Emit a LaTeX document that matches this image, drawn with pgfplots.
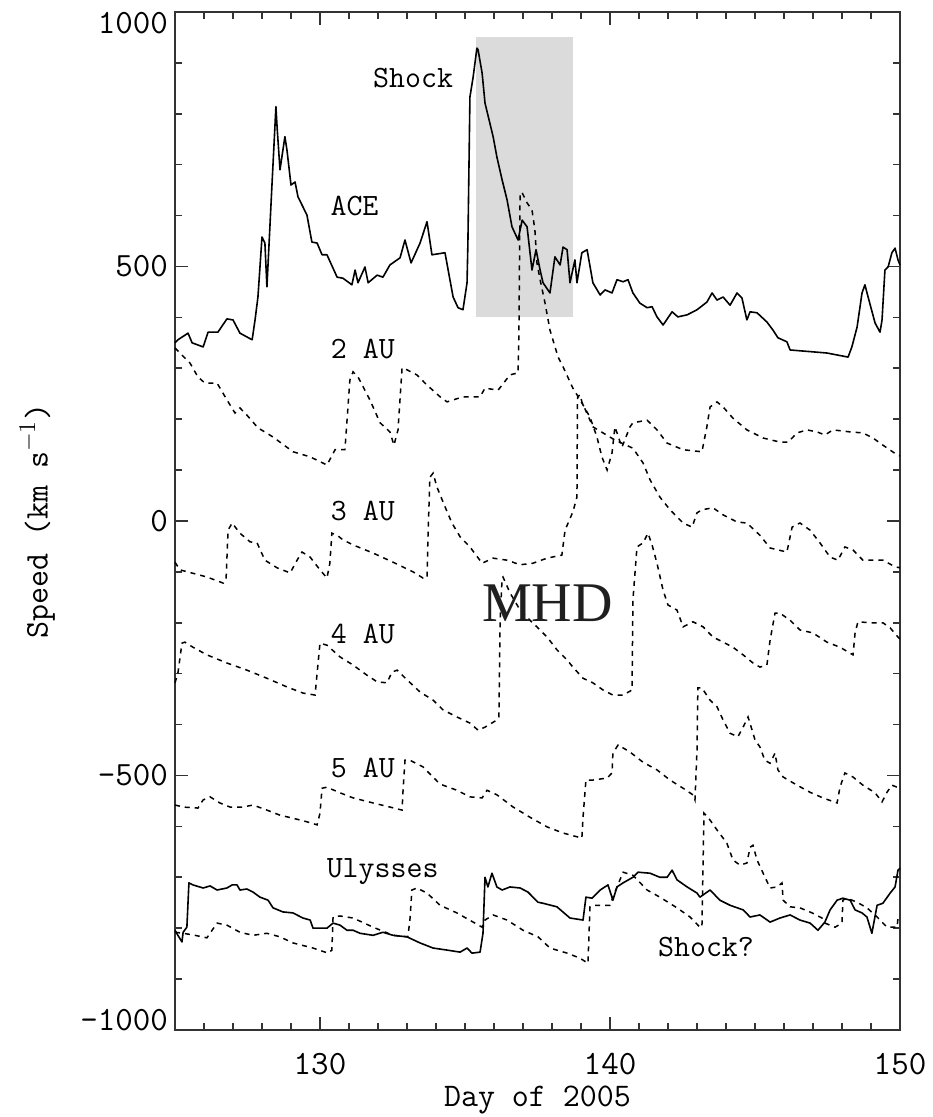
\documentclass[border=0pt]{standalone}
\usepackage{fontspec}
\usepackage{pgfplots}
\pgfplotsset{compat=1.18}
\newfontfamily\mhdfont{Liberation Serif}

\newcommand\tickfont{\fontsize{17}{20}\selectfont\ttfamily}
\newcommand\curvefont{\fontsize{15.5}{18}\selectfont\ttfamily}

\pgfplotsset{
  obs/.style={black, line width=0.8pt, line join=round, forget plot},
  mhd/.style={black, line width=0.75pt, dash pattern=on 2.5pt off 2.5pt, forget plot},
}

\begin{document}
\begin{tikzpicture}
\begin{axis}[
  name=ax,
  scale only axis, width=362.5pt, height=509pt,
  xmin=125, xmax=150, ymin=-1000, ymax=1000,
  clip=false,
  tick align=inside,
  xtick={130,140,150}, minor xtick={125,...,150},
  ytick={-1000,-500,0,500,1000}, yticklabels={,-500,0,500,},
  minor ytick={-1000,-900,...,1000},
  major tick length=6.5pt, minor tick length=3.5pt,
  tick style={line width=0.8pt, black!80},
  axis line style={line width=0.9pt, black!80},
  /pgf/number format/assume math mode=true,
  ticklabel style={font=\tickfont},
  xticklabel style={anchor=center, yshift=-17pt},
  xlabel={Day of 2005},
  ylabel={Speed (km s$^{-1}$)},
  label style={font=\fontsize{16.5}{20}\selectfont\ttfamily},
  xlabel style={at={(axis description cs:0.5,-0.0688)}, anchor=center},
  ylabel style={at={(axis description cs:-0.19,0.5)}, anchor=center},
]

% shaded interval around the shock passage at ACE
\addplot[fill=black!14, draw=none, forget plot]
  coordinates {(135.38,401) (138.72,401) (138.72,951) (135.38,951)};

% ACE
\addplot[obs] coordinates {
(125.00,350) (125.10,356) (125.45,369) (125.59,350) (125.97,342) (126.14,371)
(126.48,371) (126.79,397) (127.00,395) (127.24,369) (127.66,356) (127.76,395)
(127.86,440) (128.00,558) (128.10,546) (128.17,460) (128.34,656) (128.48,814)
(128.52,774) (128.62,690) (128.79,755) (128.86,729) (129.00,660) (129.14,666)
(129.24,637) (129.55,601) (129.72,548) (129.90,546) (130.07,523) (130.24,523)
(130.59,479) (130.79,477) (131.10,464) (131.21,493) (131.31,468) (131.55,499)
(131.66,468) (131.97,483) (132.17,479) (132.41,503) (132.76,517) (132.93,552)
(133.14,507) (133.45,546) (133.69,588) (133.86,523) (134.31,527) (134.48,474)
(134.59,440) (134.76,419) (134.93,415) (135.07,468) (135.10,546) (135.17,833)
(135.28,872) (135.41,929) (135.45,926) (135.59,880) (135.69,821) (135.97,755)
(136.10,715) (136.28,670) (136.45,631) (136.62,578) (136.83,552) (136.97,591)
(137.14,578) (137.31,493) (137.45,533) (137.59,493) (137.69,468) (137.93,448)
(138.10,519) (138.28,503) (138.38,538) (138.52,533) (138.62,468) (138.79,513)
(138.86,468) (139.03,527) (139.21,533) (139.41,468) (139.66,444) (139.83,454)
(140.07,448) (140.24,474) (140.45,470) (140.62,474) (140.79,448) (141.03,428)
(141.28,419) (141.45,421) (141.62,401) (141.83,385) (142.14,411) (142.34,401)
(142.66,405) (143.00,415) (143.34,430) (143.52,448) (143.69,434) (143.90,440)
(144.14,424) (144.38,448) (144.55,438) (144.72,395) (144.83,411) (145.07,409)
(145.41,391) (145.62,375) (145.79,360) (146.10,352) (146.21,336) (147.48,330)
(148.21,322) (148.34,342) (148.52,381) (148.69,448) (148.79,464) (148.90,440)
(149.14,389) (149.31,371) (149.38,395) (149.48,493) (149.59,499) (149.72,527)
(149.83,536) (149.93,513) (150.00,503)
};

% MHD at 2 AU
\addplot[mhd] coordinates {
(125.00,340) (125.24,326) (125.52,310) (125.79,283) (126.03,271) (126.45,271)
(126.79,238) (127.07,212) (127.24,222) (127.48,208) (127.86,183) (128.38,165)
(129.07,136) (129.66,126) (130.24,110) (130.52,140) (130.86,140) (131.03,277)
(131.14,293) (131.31,283) (131.72,238) (132.07,193) (132.41,175) (132.55,149)
(132.69,179) (132.83,301) (133.00,297) (133.34,287) (133.69,267) (134.14,244)
(134.38,234) (134.93,244) (135.52,244) (135.69,261) (136.14,257) (136.55,287)
(136.83,291) (136.86,375) (136.90,645) (136.97,645) (137.14,625) (137.31,611)
(137.41,572) (137.48,507) (137.59,474) (137.76,428) (137.93,375) (138.21,322)
(138.38,303) (138.72,261) (138.97,238) (139.31,204) (139.55,165) (139.72,126)
(139.90,100) (140.07,134) (140.17,185) (140.41,145) (140.69,185) (140.79,193)
(141.28,198) (141.62,179) (141.97,153) (142.52,140) (143.17,136) (143.34,185)
(143.45,224) (143.69,234) (143.90,224) (144.24,202) (144.72,179) (145.28,163)
(145.86,155) (146.14,155) (146.45,173) (146.79,179) (147.14,175) (147.41,169)
(147.69,179) (148.28,175) (148.72,173) (149.07,163) (149.41,149) (149.90,130)
(150.00,128)
};

% MHD at 3 AU
\addplot[mhd] coordinates {
(125.00,-81) (125.17,-96) (126.10,-110) (126.66,-122) (126.76,-116) (126.83,-18)
(126.97,-4) (127.24,-24) (127.59,-41) (127.83,-43) (128.10,-77) (128.52,-92)
(128.97,-102) (129.21,-77) (129.38,-61) (129.66,-71) (130.00,-96) (130.24,-112)
(130.34,-83) (130.41,-24) (130.59,-28) (130.79,-37) (131.14,-47) (131.83,-63)
(132.52,-81) (133.21,-100) (133.55,-112) (133.69,-112) (133.72,-37) (133.79,86)
(133.90,94) (134.03,67) (134.31,28) (134.55,-4) (134.83,-31) (135.17,-51)
(135.59,-83) (135.97,-73) (136.45,-77) (136.90,-86) (137.34,-83) (137.83,-73)
(138.34,-67) (138.45,-18) (138.72,18) (138.86,47) (138.88,244) (138.97,248)
(139.03,234) (139.41,185) (140.17,159) (140.79,143) (141.14,114) (141.38,81)
(141.72,47) (142.07,22) (142.52,-4) (142.83,-12) (143.00,16) (143.17,22)
(143.55,26) (143.90,12) (144.38,-2) (144.72,-4) (145.17,-28) (145.52,-53)
(146.10,-61) (146.28,-12) (146.55,-4) (146.90,-18) (147.24,-43) (147.59,-71)
(147.86,-77) (148.10,-51) (148.38,-57) (148.72,-77) (149.41,-77) (149.83,-90)
(150.00,-92)
};

% MHD at 4 AU
\addplot[mhd] coordinates {
(125.00,-318) (125.10,-299) (125.24,-240) (125.34,-238) (125.62,-248) (126.10,-263)
(126.79,-279) (127.48,-293) (128.17,-309) (128.86,-326) (129.41,-338) (129.83,-342)
(129.90,-299) (130.00,-240) (130.24,-244) (130.69,-267) (131.14,-283) (131.62,-303)
(131.97,-316) (132.31,-318) (132.48,-297) (132.66,-293) (133.00,-312) (133.45,-336)
(133.90,-352) (134.24,-371) (134.72,-385) (135.17,-397) (135.45,-411) (135.69,-405)
(136.10,-391) (136.17,-385) (136.21,-195) (136.28,-112) (136.31,-110) (136.55,-141)
(136.90,-175) (137.24,-195) (137.48,-208) (137.83,-228) (138.17,-253) (138.52,-273)
(138.72,-287) (139.07,-309) (139.41,-318) (139.76,-332) (140.10,-342) (140.45,-342)
(140.76,-332) (140.79,-155) (140.93,-51) (141.14,-43) (141.31,-24) (141.45,-47)
(141.62,-83) (141.83,-136) (142.00,-165) (142.31,-175) (142.52,-208) (142.86,-198)
(143.21,-208) (143.55,-228) (143.90,-238) (144.24,-248) (144.59,-263) (144.93,-279)
(145.17,-287) (145.41,-283) (145.52,-234) (145.69,-181) (145.86,-181) (146.21,-195)
(146.55,-214) (147.00,-220) (147.48,-238) (147.93,-248) (148.38,-263) (148.45,-220)
(148.55,-198) (148.97,-200) (149.41,-200) (149.66,-210) (149.93,-228) (150.00,-232)
};

% MHD at 5 AU
\addplot[mhd] coordinates {
(125.00,-558) (125.28,-562) (125.79,-564) (125.97,-548) (126.21,-542) (126.55,-554)
(126.90,-562) (127.34,-562) (127.69,-558) (128.17,-568) (128.62,-578) (129.07,-584)
(129.55,-591) (129.90,-597) (130.00,-574) (130.07,-525) (130.24,-523) (130.69,-534)
(131.14,-544) (131.83,-554) (132.41,-562) (132.83,-568) (132.86,-533) (132.93,-470)
(133.10,-470) (133.55,-483) (134.07,-513) (134.24,-519) (134.72,-529) (135.17,-542)
(135.59,-544) (135.76,-529) (136.10,-538) (136.66,-562) (137.24,-582) (137.83,-601)
(138.38,-613) (139.03,-623) (139.07,-582) (139.17,-509) (139.41,-509) (139.90,-505)
(140.07,-495) (140.10,-456) (140.28,-440) (140.69,-454) (141.14,-474) (141.62,-489)
(142.07,-509) (142.52,-525) (142.86,-538) (142.93,-548) (143.00,-450) (143.03,-328)
(143.17,-328) (143.45,-352) (143.69,-365) (143.90,-391) (144.14,-417) (144.41,-424)
(144.59,-405) (144.76,-385) (144.90,-411) (145.00,-430) (145.17,-444) (145.34,-470)
(145.52,-476) (145.69,-456) (145.79,-489) (145.97,-503) (146.45,-519) (146.90,-533)
(147.34,-544) (147.83,-554) (147.93,-523) (148.10,-495) (148.38,-503) (148.72,-519)
(149.14,-534) (149.38,-552) (149.55,-533) (149.72,-519) (149.90,-523) (150.00,-523)
};

% MHD at Ulysses
\addplot[mhd] coordinates {
(125.00,-808) (125.28,-810) (125.69,-814) (126.10,-819) (126.28,-804) (126.45,-790)
(126.79,-794) (127.24,-808) (127.69,-814) (128.17,-810) (128.62,-817) (129.07,-829)
(129.76,-839) (130.28,-849) (130.41,-843) (130.45,-778) (130.69,-776) (131.14,-780)
(131.83,-798) (132.52,-814) (133.03,-817) (133.10,-784) (133.17,-725) (133.34,-721)
(133.69,-731) (134.14,-755) (134.72,-770) (135.28,-788) (135.59,-798) (135.69,-784)
(135.97,-774) (136.45,-784) (137.00,-804) (137.52,-817) (137.93,-839) (138.52,-849)
(138.97,-859) (139.24,-869) (139.31,-758) (139.41,-755) (140.00,-755) (140.10,-739)
(140.45,-690) (140.79,-696) (141.28,-725) (141.72,-739) (142.31,-760) (142.76,-778)
(143.10,-798) (143.17,-798) (143.24,-574) (143.38,-582) (143.69,-607) (144.03,-633)
(144.24,-666) (144.48,-676) (144.72,-672) (144.83,-641) (144.93,-637) (145.07,-666)
(145.28,-692) (145.52,-721) (145.76,-719) (145.93,-711) (145.97,-745) (146.21,-758)
(146.55,-760) (146.97,-770) (147.31,-780) (147.41,-790) (147.76,-798) (148.00,-790)
(148.03,-745) (148.17,-741) (148.52,-749) (148.86,-760) (149.21,-778) (149.55,-798)
(149.90,-798) (149.93,-780) (150.00,-774)
};

% Ulysses
\addplot[obs] coordinates {
(125.00,-804) (125.10,-814) (125.24,-827) (125.28,-808) (125.41,-798) (125.48,-711)
(125.62,-715) (125.97,-721) (126.21,-717) (126.45,-725) (126.79,-721) (126.97,-715)
(127.14,-715) (127.24,-725) (127.48,-723) (127.69,-729) (127.93,-739) (128.21,-745)
(128.38,-760) (128.72,-768) (129.07,-770) (129.41,-780) (129.66,-784) (129.76,-800)
(130.24,-800) (130.45,-790) (130.69,-794) (130.93,-804) (131.14,-804) (131.38,-810)
(131.83,-814) (132.17,-808) (132.52,-814) (133.00,-817) (133.45,-829) (133.90,-839)
(134.38,-843) (134.83,-847) (135.07,-839) (135.24,-849) (135.52,-847) (135.62,-810)
(135.69,-700) (135.79,-719) (135.93,-692) (136.10,-719) (136.28,-725) (136.55,-719)
(136.90,-721) (137.17,-729) (137.52,-749) (137.69,-751) (138.17,-758) (138.62,-780)
(139.07,-784) (139.17,-739) (139.38,-741) (139.66,-725) (139.93,-715) (140.10,-745)
(140.24,-719) (140.45,-711) (140.79,-700) (140.97,-690) (141.38,-692) (141.72,-700)
(141.97,-700) (142.14,-686) (142.31,-705) (142.66,-719) (143.00,-731) (143.10,-739)
(143.45,-725) (143.79,-745) (144.14,-755) (144.59,-764) (144.83,-778) (145.17,-774)
(145.52,-788) (145.86,-780) (146.21,-774) (146.55,-784) (146.90,-790) (147.17,-804)
(147.41,-788) (147.59,-764) (147.83,-745) (148.03,-741) (148.28,-745) (148.45,-764)
(148.69,-770) (148.86,-778) (149.03,-810) (149.21,-755) (149.41,-751) (149.66,-731)
(149.83,-719) (149.93,-686) (150.00,-682)
};

% curve names
\node[font=\curvefont, anchor=base east] at (axis cs:134.83,851) {Shock};
\node[font=\curvefont, anchor=base] at (axis cs:131.19,601) {ACE};
\node[font=\curvefont, anchor=base] at (axis cs:131.48,320) {2 AU};
\node[font=\curvefont, anchor=base] at (axis cs:131.48,0) {3 AU};
\node[font=\curvefont, anchor=base] at (axis cs:131.48,-240) {4 AU};
\node[font=\curvefont, anchor=base] at (axis cs:131.48,-503) {5 AU};
\node[font=\curvefont, anchor=base] at (axis cs:132.16,-700) {Ulysses};
\node[font=\curvefont, anchor=base] at (axis cs:143.31,-855) {Shock?};
\node[font=\mhdfont\fontsize{28}{30}\selectfont, text=black!88, anchor=base]
  at (axis cs:137.84,-198) {MHD};

% end labels of the speed axis, kept inside the frame height
\node[font=\tickfont, anchor=east] at (axis cs:125,-980) {-1000};
\node[font=\tickfont, anchor=east] at (axis cs:125,978) {1000};
\end{axis}
\pgfresetboundingbox
\path[use as bounding box] ([xshift=-87.5pt,yshift=-43.5pt]ax.south west)
  rectangle ([xshift=16pt,yshift=6pt]ax.north east);
\end{tikzpicture}
\end{document}
